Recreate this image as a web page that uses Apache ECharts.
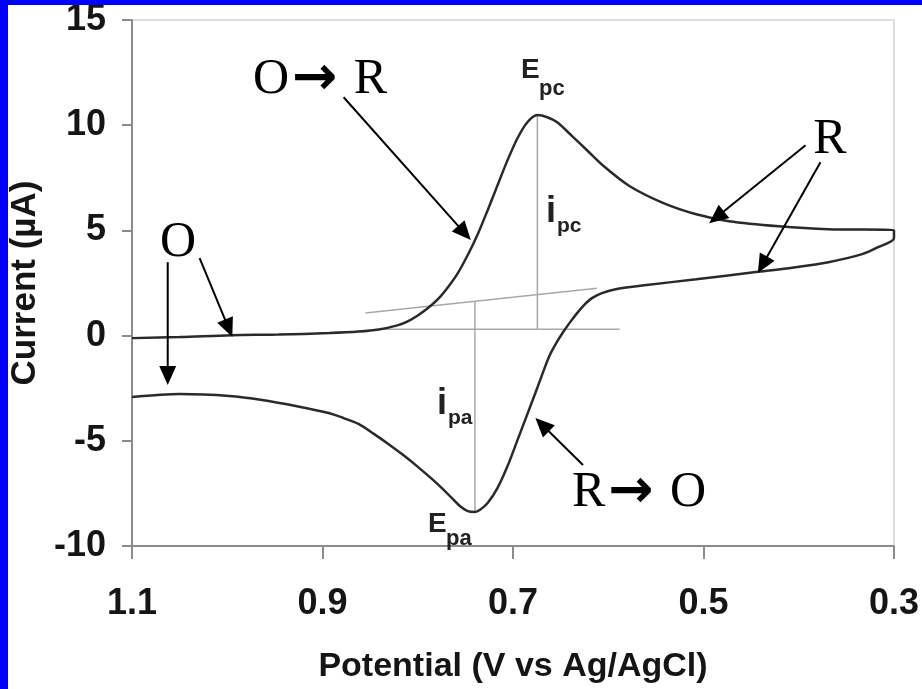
<!DOCTYPE html>
<html>
<head>
<meta charset="utf-8">
<script src="https://cdn.jsdelivr.net/npm/echarts@6/dist/echarts.min.js"></script>
<style>
  html, body { margin: 0; padding: 0; background: #ffffff; }
  #chart { width: 922px; height: 689px; }
  .edge { position: absolute; background: #0000ff; }
</style>
</head>
<body>
<div id="chart"></div>
<div class="edge" style="left:0;top:0;width:8px;height:689px"></div>
<div class="edge" style="left:0;top:0;width:922px;height:5px"></div>
<script>
// Cyclic voltammogram: forward (cathodic) sweep 1.1 V -> 0.3 V
const forwardPotential = [1.100, 1.050, 0.996, 0.946, 0.893, 0.862, 0.841, 0.8205, 0.810, 0.7996,
  0.7892, 0.7788, 0.7683, 0.7579, 0.7475, 0.737, 0.7266, 0.7162, 0.7057, 0.6953, 0.6849, 0.6744,
  0.664, 0.6536, 0.6379, 0.6223, 0.6046, 0.5774, 0.542, 0.5076, 0.4732, 0.421, 0.3689, 0.300];
const forwardCurrent = [-0.12, -0.07, 0.02, 0.05, 0.12, 0.19, 0.29, 0.50, 0.69, 0.97,
  1.31, 1.73, 2.30, 2.97, 3.83, 4.82, 5.96, 7.15, 8.34, 9.38, 10.14, 10.48,
  10.38, 10.14, 9.48, 8.81, 8.05, 7.10, 6.30, 5.77, 5.44, 5.20, 5.06, 5.01];

// Reverse (anodic) sweep 0.3 V -> 1.1 V
const reversePotential = [0.300, 0.3167, 0.3334, 0.3689, 0.4033, 0.445, 0.5076, 0.5597, 0.591, 0.6066,
  0.6171, 0.6254, 0.6327, 0.640, 0.6473, 0.6546, 0.6619, 0.6692, 0.6765, 0.6849, 0.6953, 0.7057,
  0.7162, 0.7266, 0.7349, 0.740, 0.7475, 0.7558, 0.7683, 0.784, 0.7996, 0.8152, 0.8309, 0.8465,
  0.8622, 0.8778, 0.8935, 0.9279, 0.9634, 0.9978, 1.050, 1.100];
const reverseCurrent = [4.63, 4.20, 3.87, 3.49, 3.25, 3.02, 2.68, 2.40, 2.21, 2.02,
  1.78, 1.45, 1.07, 0.64, 0.17, -0.36, -0.98, -1.83, -2.73, -3.73, -4.97, -6.20,
  -7.24, -7.96, -8.29, -8.38, -8.34, -8.10, -7.53, -6.86, -6.25, -5.68, -5.15, -4.66,
  -4.20, -3.92, -3.68, -3.35, -3.06, -2.87, -2.78, -2.92];

// Peak construction lines (baselines and peak heights)
const cathodicBaselineV = [0.84, 0.588];
const cathodicBaselineI = [0.3, 0.3];
const anodicBaselineV = [0.855, 0.612];
const anodicBaselineI = [1.07, 2.25];
const epcDropV = [0.6744, 0.6744];
const epcDropI = [10.48, 0.3];
const epaDropV = [0.740, 0.740];
const epaDropI = [1.63, -8.38];

// Pointer arrows (tail -> tip), in volts / microamps
const arrowTails = [[0.8778, 11.33], [0.3928, 9.05], [0.3772, 8.24], [1.0625, 3.49], [1.029, 3.68], [0.6265, -6.15]];
const arrowTips  = [[0.7443, 4.54], [0.494, 5.34], [0.4429, 2.97], [1.0625, -2.35], [0.9947, -0.07], [0.6765, -3.92]];

// Axis ticks
const xTickValues = [1.1, 0.9, 0.7, 0.5, 0.3];
const yTickValues = [-10, -5, 0, 5, 10, 15];

const zip = (a, b) => a.map((v, i) => [v, b[i]]);
const cvLoop = zip(forwardPotential, forwardCurrent).concat(zip(reversePotential, reverseCurrent));

const sans = 'Liberation Sans, Arial, sans-serif';
const serif = 'Liberation Serif, Times New Roman, serif';
const axisGray = '#8c8c8c';
const guideGray = '#a8a8a8';

const chart = echarts.init(document.getElementById('chart'), null, { renderer: 'canvas' });

function guide(v, i) {
  return {
    type: 'line', data: zip(v, i), showSymbol: false, silent: true, z: 2,
    lineStyle: { color: guideGray, width: 1.5 }
  };
}

chart.setOption({
  animation: false,
  backgroundColor: '#ffffff',
  grid: { left: 132, right: 23, top: 20, bottom: 142, show: true, borderColor: '#dedede', borderWidth: 2 },
  xAxis: {
    type: 'value', inverse: true, min: 0.3, max: 1.1,
    name: 'Potential (V vs Ag/AgCl)', nameLocation: 'middle', nameGap: 104,
    nameTextStyle: { fontFamily: sans, fontWeight: 'bold', fontSize: 34, color: '#151515' },
    axisLine: { show: true, onZero: false, lineStyle: { color: axisGray, width: 2 } },
    axisTick: { show: true, length: 13, customValues: xTickValues, lineStyle: { color: axisGray, width: 2 } },
    axisLabel: { customValues: xTickValues, formatter: v => v.toFixed(1), margin: 40,
      fontFamily: sans, fontWeight: 'bold', fontSize: 36, color: '#151515' },
    splitLine: { show: false }
  },
  yAxis: {
    type: 'value', min: -10, max: 15, interval: 5,
    name: 'Current (µA)', nameLocation: 'middle', nameGap: 88, nameRotate: 90,
    nameTextStyle: { fontFamily: sans, fontWeight: 'bold', fontSize: 35, color: '#151515' },
    axisLine: { show: true, onZero: false, lineStyle: { color: axisGray, width: 2 } },
    axisTick: { show: true, length: 10, lineStyle: { color: axisGray, width: 2 } },
    axisLabel: { margin: 26, fontFamily: sans, fontWeight: 'bold', fontSize: 36, color: '#151515',
      formatter: v => yTickValues.includes(v) ? String(v) : '' },
    splitLine: { show: false }
  },
  series: [
    guide(cathodicBaselineV, cathodicBaselineI),
    guide(anodicBaselineV, anodicBaselineI),
    guide(epcDropV, epcDropI),
    guide(epaDropV, epaDropI),
    {
      type: 'line', data: cvLoop, showSymbol: false, smooth: 0.3, z: 3, silent: true,
      lineStyle: { color: '#2a2a2a', width: 2.5 }
    }
  ]
});

// Arrows and annotation labels
const graphics = [];
arrowTails.forEach((tail, k) => {
  const p0 = chart.convertToPixel({ gridIndex: 0 }, tail);
  const p1 = chart.convertToPixel({ gridIndex: 0 }, arrowTips[k]);
  const dx = p1[0] - p0[0], dy = p1[1] - p0[1];
  const len = Math.hypot(dx, dy);
  const ux = dx / len, uy = dy / len;
  const headL = 19, headW = 8.5;
  const bx = p1[0] - ux * headL, by = p1[1] - uy * headL;
  graphics.push({ type: 'line', z: 10, shape: { x1: p0[0], y1: p0[1], x2: bx + ux * 2, y2: by + uy * 2 },
    style: { stroke: '#000', lineWidth: 2 } });
  graphics.push({ type: 'polygon', z: 10, shape: { points: [[p1[0], p1[1]],
    [bx - uy * headW, by + ux * headW], [bx + uy * headW, by - ux * headW]] }, style: { fill: '#000' } });
});

const serifRich = {
  a: { fontFamily: serif, fontSize: 50, fill: '#000' },
  b: { fontFamily: 'DejaVu Sans, sans-serif', fontWeight: 'bold', fontSize: 54, fill: '#000', padding: [0, 4, 0, 3] }
};
function serifLabel(text, x, y, align) {
  return { type: 'text', z: 10, x: x, y: y,
    style: { text: text, rich: serifRich, align: align, verticalAlign: 'middle' } };
}
graphics.push(serifLabel('{a|O}{b|→}{a| R}', 253, 80, 'left'));
graphics.push(serifLabel('{a|R}', 830, 140, 'center'));
graphics.push(serifLabel('{a|O}', 178, 243, 'center'));
graphics.push(serifLabel('{a|R}{b|→}{a| O}', 572, 493, 'left'));

function peakLabel(main, sub, x, y, mainSize, subSize, subDx, subDy) {
  graphics.push({ type: 'text', z: 10, x: x, y: y,
    style: { text: main, fontFamily: sans, fontWeight: 'bold', fontSize: mainSize, fill: '#222',
      align: 'left', verticalAlign: 'bottom' } });
  graphics.push({ type: 'text', z: 10, x: x + subDx, y: y + subDy,
    style: { text: sub, fontFamily: sans, fontWeight: 'bold', fontSize: subSize, fill: '#222',
      align: 'left', verticalAlign: 'bottom' } });
}
peakLabel('E', 'pc', 521, 84, 28, 22, 18, 16);
peakLabel('i', 'pc', 546, 230, 36, 21, 11, 7);
peakLabel('i', 'pa', 437, 422, 36, 21, 11, 7);
peakLabel('E', 'pa', 428, 538, 28, 22, 18, 12);

chart.setOption({ graphic: graphics });
</script>
</body>
</html>
